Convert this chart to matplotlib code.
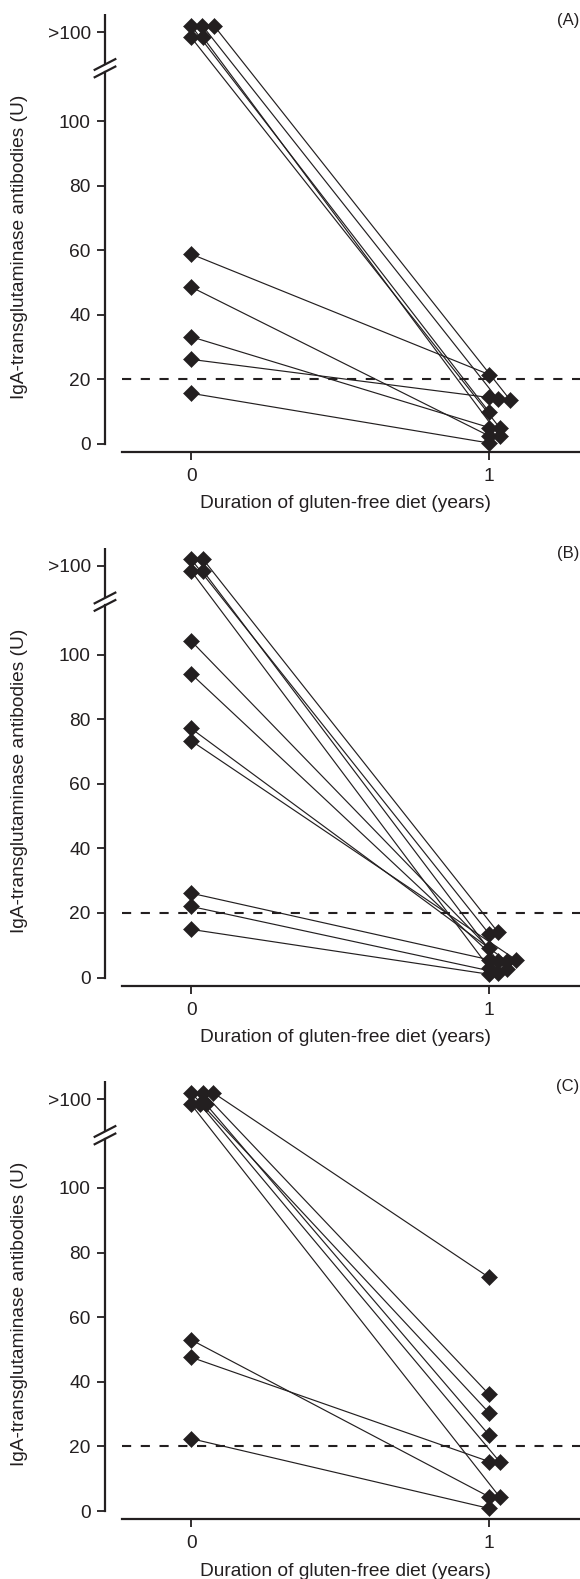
import matplotlib
matplotlib.use('Agg')
import matplotlib.pyplot as plt

plt.rcParams['font.family'] = ['Liberation Sans', 'DejaVu Sans']

# ---------------- data ----------------
OVER = '>100'
x_ticks = [0, 1]
x_tick_labels = ['0', '1']
y_ticks = [0, 20, 40, 60, 80, 100]
y_tick_labels = ['0', '20', '40', '60', '80', '100']
cutoff = 20
panel_names = ['(A)', '(B)', '(C)']
x_label = 'Duration of gluten-free diet (years)'
y_label = 'IgA-transglutaminase antibodies (U)'

# Panel A
A_before = [OVER, OVER, OVER, OVER, OVER, 58.8, 48.6, 33.2, 26.2, 15.7]
A_after = [13.7, 13.8, 9.9, 5.1, 2.5, 21.5, 2.5, 5.1, 14.4, 0.3]
A_over_row = [1, 1, 1, -1, -1]
A_before_dx = [0.077, 0.038, 0.0, 0.0, 0.040, 0, 0, 0, 0, 0]
A_after_dx = [0.070, 0.030, 0.0, 0.035, 0.035, 0, 0, 0, 0, 0]

# Panel B
B_before = [OVER, OVER, OVER, OVER, 104.2, 94.0, 77.1, 73.3, 26.1, 22.0, 14.9]
B_after = [13.5, 14.0, 3.0, 5.0, 9.0, 2.5, 5.0, 5.5, 5.5, 1.5, 1.0]
B_over_row = [1, 1, -1, -1]
B_before_dx = [0.0, 0.040, 0.0, 0.040, 0, 0, 0, 0, 0, 0, 0]
B_after_dx = [0.0, 0.030, 0.0, 0.030, 0.0, 0.060, 0.060, 0.090, 0.0, 0.030, 0.0]

# Panel C
C_before = [OVER, OVER, OVER, OVER, OVER, OVER, 53.0, 47.6, 22.4]
C_after = [72.3, 36.1, 30.4, 23.5, 15.3, 4.4, 4.4, 15.3, 0.8]
C_over_row = [1, 1, 1, -1, -1, -1]
C_before_dx = [0.074, 0.040, 0.0, 0.050, 0.030, 0.0, 0, 0, 0]
C_after_dx = [0.0, 0.0, 0.0, 0.0, 0.035, 0.035, 0.0, 0.0, 0.0]

panels = [
    (A_before, A_after, A_over_row, A_before_dx, A_after_dx),
    (B_before, B_after, B_over_row, B_before_dx, B_after_dx),
    (C_before, C_after, C_over_row, C_before_dx, C_after_dx),
]

# ---------------- layout / style ----------------
W, H, DPI = 580, 1579, 100
INK = '#231f20'
OVER_POS = 127.5
ROW_DY = {1: 2.0, -1: -1.6}
YMIN, YMAX = -2.5, 133.0
BRK_LO, BRK_HI = 115.2, 117.5
XMIN, XMAX = -0.289, 1.305
XAX_START = -0.232
PPU = 3.23                       # pixels per y unit
Y0_PX = [444, 977.5, 1511]       # pixel row of y=0 per panel
SPINE_LW = 1.6
FS = 13.8
MS = 8.0

fig = plt.figure(figsize=(W / DPI, H / DPI), dpi=DPI)

for (before, after, over_row, bdx, adx), y0, name in zip(panels, Y0_PX, panel_names):
    bot_px = y0 - YMIN * PPU
    top_px = y0 - YMAX * PPU
    ax = fig.add_axes([105 / W, 1 - bot_px / H, (W - 105) / W, (bot_px - top_px) / H])
    ax.set_xlim(XMIN, XMAX)
    ax.set_ylim(YMIN, YMAX)

    # convert values to plotting positions
    k = 0
    ys_b = []
    for v in before:
        if v == OVER:
            ys_b.append(OVER_POS + ROW_DY[over_row[k]])
            k += 1
        else:
            ys_b.append(v)
    xs_b = [0 + d for d in bdx]
    xs_a = [1 + d for d in adx]

    for xb, yb, xa, ya in zip(xs_b, ys_b, xs_a, after):
        ax.plot([xb, xa], [yb, ya], color=INK, lw=0.85, zorder=2, solid_capstyle='butt')
    ax.plot(xs_b, ys_b, 'D', ms=MS, color=INK, mec=INK, mew=0.4, zorder=3, clip_on=False)
    ax.plot(xs_a, after, 'D', ms=MS, color=INK, mec=INK, mew=0.4, zorder=3, clip_on=False)

    # cutoff line
    ax.plot([XAX_START, XMAX], [cutoff, cutoff], color=INK, lw=1.5,
            ls=(0, (4.4, 4.6)), zorder=1, clip_on=False)

    # spines
    for s in ['top', 'right']:
        ax.spines[s].set_visible(False)
    ax.spines['bottom'].set_bounds(XAX_START, XMAX)
    ax.spines['left'].set_bounds(0, BRK_LO)
    for s in ['bottom', 'left']:
        ax.spines[s].set_linewidth(SPINE_LW)
        ax.spines[s].set_color(INK)
    ax.plot([XMIN, XMIN], [BRK_HI, YMAX], color=INK, lw=SPINE_LW,
            clip_on=False, solid_capstyle='butt')
    # break marks
    for yb in (BRK_LO, BRK_HI):
        ax.plot([XMIN - 0.0346, XMIN + 0.0346], [yb - 1.65, yb + 1.65],
                color=INK, lw=SPINE_LW, clip_on=False)

    ax.set_xticks(x_ticks)
    ax.set_xticklabels(x_tick_labels)
    ax.set_yticks(y_ticks + [OVER_POS])
    ax.set_yticklabels(y_tick_labels + [OVER])
    ax.tick_params(axis='both', direction='out', length=5.8, width=1.3,
                   color=INK, labelcolor=INK, labelsize=FS)
    ax.tick_params(axis='y', pad=4.5)
    ax.tick_params(axis='x', pad=6.0)
    ax.patch.set_alpha(0)

    fig.text(345 / W, 1 - (y0 + 60) / H, x_label, ha='center', va='center',
             fontsize=FS, color=INK)
    fig.text(20 / W, 1 - (y0 - 197) / H, y_label, ha='center', va='center',
             rotation=90, fontsize=FS, color=INK)
    fig.text(579 / W, 1 - (y0 - 424) / H, name, ha='right', va='center',
             fontsize=12, color=INK)

fig.savefig('out.png', dpi=DPI)
